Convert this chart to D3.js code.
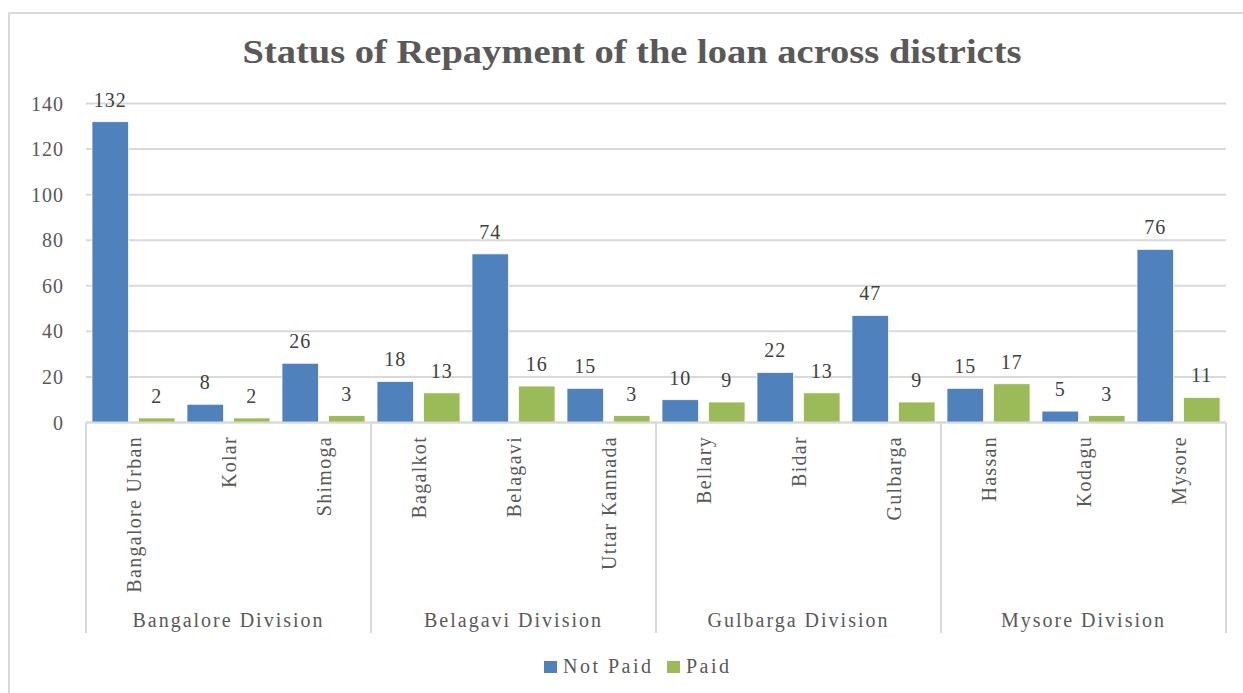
<!DOCTYPE html>
<html>

<head>
    <meta charset="utf-8">
    <script src="https://cdn.jsdelivr.net/npm/d3@7"></script>
    <title>Status of Repayment of the loan across districts</title>

    <style>
        body {
            margin: 0;
            background-color: #fff;
        }
    </style>

</head>

<body>
<svg width="1243" height="693"></svg>

<script>
    const districts = ["Bangalore Urban", "Kolar", "Shimoga", "Bagalkot", "Belagavi", "Uttar Kannada",
        "Bellary", "Bidar", "Gulbarga", "Hassan", "Kodagu", "Mysore"];
    const divisions = ["Bangalore Division", "Belagavi Division", "Gulbarga Division", "Mysore Division"];
    const notPaid = [132, 8, 26, 18, 74, 15, 10, 22, 47, 15, 5, 76];
    const paid = [2, 2, 3, 13, 16, 3, 9, 13, 9, 17, 3, 11];
    const seriesNames = ["Not Paid", "Paid"];
    const yTicks = [0, 20, 40, 60, 80, 100, 120, 140];

    const colors = {"Not Paid": "#4f81bd", "Paid": "#9bbb59"};
    const serif = '"Liberation Serif", "Times New Roman", serif';

    const svg = d3.select("svg").style("font-family", serif);

    // outer chart border (runs off the picture at right and bottom)
    svg.append("rect")
        .attr("x", 9).attr("y", 13)
        .attr("width", 1260).attr("height", 700)
        .attr("fill", "none")
        .attr("stroke", "#d9d9d9")
        .attr("stroke-width", 2);

    svg.append("text")
        .attr("x", 632).attr("y", 63)
        .attr("text-anchor", "middle")
        .style("font-family", serif)
        .style("font-size", "33px")
        .style("font-weight", "bold")
        .attr("fill", "#595959")
        .attr("textLength", 779)
        .attr("lengthAdjust", "spacingAndGlyphs")
        .text("Status of Repayment of the loan across districts");

    const x = d3.scaleBand().domain(districts).range([86, 1226]).padding(0);
    const xs = d3.scaleBand().domain(seriesNames).range([0, x.bandwidth()])
        .paddingInner(0.215).paddingOuter(0.129);
    const y = d3.scaleLinear().domain([0, 140]).range([422.5, 103.5]);

    // gridlines
    svg.append("g")
        .selectAll("line")
        .data(yTicks)
        .enter()
        .append("line")
        .attr("x1", 86).attr("x2", 1226)
        .attr("y1", d => y(d)).attr("y2", d => y(d))
        .attr("stroke", "#d9d9d9")
        .attr("stroke-width", 2);

    svg.append("g")
        .selectAll("text")
        .data(yTicks)
        .enter()
        .append("text")
        .attr("x", 64)
        .attr("y", d => y(d) + 7)
        .attr("text-anchor", "end")
        .style("font-family", serif)
        .style("font-size", "20px")
        .style("letter-spacing", "1px")
        .attr("fill", "#595959")
        .text(d => d);

    // bars
    const rows = districts.map((d, i) => ({district: d, values: [notPaid[i], paid[i]]}));

    const groups = svg.append("g")
        .selectAll("g")
        .data(rows)
        .enter()
        .append("g")
        .attr("transform", d => `translate(${x(d.district)},0)`);

    groups.selectAll("rect")
        .data(d => d.values.map((v, j) => ({s: seriesNames[j], v: v})))
        .enter()
        .append("rect")
        .attr("x", d => xs(d.s))
        .attr("width", xs.bandwidth())
        .attr("y", d => y(d.v))
        .attr("height", d => y(0) - y(d.v))
        .attr("fill", d => colors[d.s])
        .attr("stroke", "#fff")
        .attr("stroke-width", 0.75);

    groups.selectAll("text")
        .data(d => d.values.map((v, j) => ({s: seriesNames[j], v: v})))
        .enter()
        .append("text")
        .attr("x", d => xs(d.s) + xs.bandwidth() / 2)
        .attr("y", d => y(d.v) - 15)
        .attr("text-anchor", "middle")
        .style("font-family", serif)
        .style("font-size", "20px")
        .style("letter-spacing", "1px")
        .attr("fill", "#404040")
        .text(d => d.v);

    // category axis
    svg.append("line")
        .attr("x1", 86).attr("x2", 1226)
        .attr("y1", y(0)).attr("y2", y(0))
        .attr("stroke", "#d9d9d9")
        .attr("stroke-width", 2);

    const sepIdx = [0, 3, 6, 9, 12];
    svg.append("g")
        .selectAll("line")
        .data(sepIdx)
        .enter()
        .append("line")
        .attr("x1", d => 86 + d * x.step()).attr("x2", d => 86 + d * x.step())
        .attr("y1", y(0)).attr("y2", 633)
        .attr("stroke", "#d9d9d9")
        .attr("stroke-width", 2);

    svg.append("g")
        .selectAll("text")
        .data(districts)
        .enter()
        .append("text")
        .attr("transform", d => `translate(${x(d) + x.bandwidth() / 2 + 7},436) rotate(-90)`)
        .attr("text-anchor", "end")
        .style("font-family", serif)
        .style("font-size", "20px")
        .style("letter-spacing", "1.3px")
        .attr("fill", "#595959")
        .text(d => d);

    svg.append("g")
        .selectAll("text")
        .data(divisions)
        .enter()
        .append("text")
        .attr("x", (d, i) => 86 + (i * 3 + 1.5) * x.step())
        .attr("y", 627)
        .attr("text-anchor", "middle")
        .style("font-family", serif)
        .style("font-size", "20px")
        .style("letter-spacing", "2px")
        .attr("fill", "#595959")
        .text(d => d);

    // legend
    const legendX = [544, 667];
    const legend = svg.append("g")
        .selectAll("g")
        .data(seriesNames)
        .enter()
        .append("g")
        .attr("transform", (d, i) => `translate(${legendX[i]},661)`);

    legend.append("rect")
        .attr("width", 13).attr("height", 12)
        .attr("fill", d => colors[d]);

    legend.append("text")
        .attr("x", 19).attr("y", 12)
        .style("font-family", serif)
        .style("font-size", "20px")
        .style("letter-spacing", "2.5px")
        .attr("fill", "#595959")
        .text(d => d);
</script>
</body>

</html>
